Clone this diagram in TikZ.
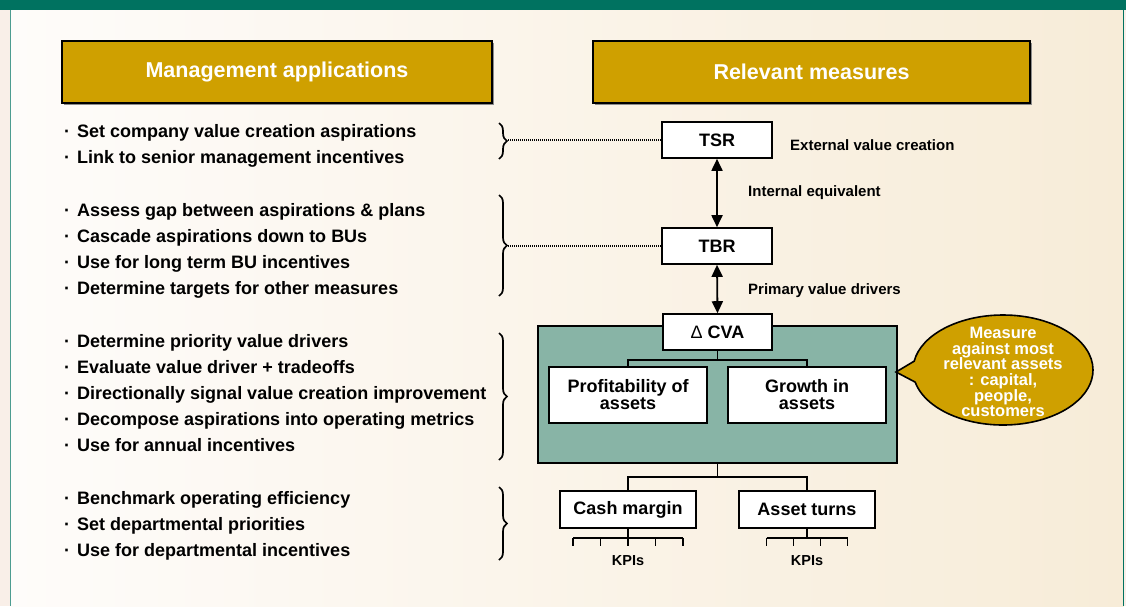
\documentclass[tikz,border=0pt]{standalone}
\usepackage{fontspec}
\setmainfont{Liberation Sans}
\usetikzlibrary{arrows.meta,decorations.pathreplacing,shapes.callouts,shadows,calc}
\definecolor{gold}{RGB}{207,160,0}
\definecolor{sage}{RGB}{136,180,166}
\definecolor{topgreen}{RGB}{0,114,96}
\definecolor{bgleft}{RGB}{254,252,250}
\definecolor{bgright}{RGB}{247,236,216}
\definecolor{bgstrip}{RGB}{249,239,232}
\begin{document}
\begin{tikzpicture}[x=1pt,y=-1pt,
  hdr/.style={draw=black, line width=1.6pt, fill=gold, text=white,
    font=\bfseries\fontsize{21.5}{26}\selectfont, minimum height=62, inner sep=0,
    drop shadow={shadow xshift=1.5pt, shadow yshift=-1.5pt, fill=black!45, opacity=1}},
  wbox/.style={draw=black, line width=1.6pt, fill=white, inner sep=0, align=center,
    font=\bfseries\fontsize{18}{17}\selectfont},
  bul/.style={anchor=base west, inner sep=0, font=\bfseries\fontsize{18}{26}\selectfont},
  lbl/.style={anchor=base west, inner sep=0, font=\bfseries\fontsize{15}{18}\selectfont},
  kpi/.style={anchor=base, inner sep=0, font=\bfseries\fontsize{14.5}{18}\selectfont},
  bracestyle/.style={line width=1.7pt, decorate, decoration={brace, amplitude=8pt}},
  dotline/.style={line width=1.2pt, dash pattern=on 1pt off 1pt},
  dbl/.style={line width=1.8pt, {Triangle[width=11pt,length=12pt]}-{Triangle[width=11pt,length=12pt]}},
  conn/.style={line width=1.8pt},
]
\useasboundingbox (0,0) rectangle (1126,606);
% background
\fill[bgstrip] (0,0) rectangle (1126,606);
\shade[left color=bgleft, right color=bgright] (10.5,10) rectangle (1123.5,606);
\fill[topgreen] (0,0) rectangle (1126,10);
\draw[topgreen!70, line width=1.3pt] (10.5,10) -- (10.5,606);
\draw[topgreen, line width=1.5pt] (1123.5,10) -- (1123.5,606);

% headers
\node[hdr, minimum width=430] (hmgmt) at (277,72) {Management applications};
\node[hdr, minimum width=437] (hrel) at (811.5,72) {Relevant measures};

% bullets
\def\bu{\makebox[13pt][l]{·}}
\node[bul] (l1) at (64,137) {\bu Set company value creation aspirations};
\node[bul] (l2) at (64,163) {\bu Link to senior management incentives};
\node[bul] (l3) at (64,216) {\bu Assess gap between aspirations \& plans};
\node[bul] (l4) at (64,242) {\bu Cascade aspirations down to BUs};
\node[bul] (l5) at (64,268) {\bu Use for long term BU incentives};
\node[bul] (l6) at (64,294) {\bu Determine targets for other measures};
\node[bul] (l7) at (64,347) {\bu Determine priority value drivers};
\node[bul] (l8) at (64,373) {\bu Evaluate value driver + tradeoffs};
\node[bul] (l9) at (64,399) {\bu Directionally signal value creation improvement};
\node[bul] (l10) at (64,425) {\bu Decompose aspirations into operating metrics};
\node[bul] (l11) at (64,451) {\bu Use for annual incentives};
\node[bul] (l12) at (64,504) {\bu Benchmark operating efficiency};
\node[bul] (l13) at (64,530) {\bu Set departmental priorities};
\node[bul] (l14) at (64,556) {\bu Use for departmental incentives};

% braces
\draw[bracestyle] (499,123) -- (499,159);
\draw[bracestyle] (499,195) -- (499,296);
\draw[bracestyle] (499,333) -- (499,460);
\draw[bracestyle] (499,487) -- (499,560);
\coordinate (bt1) at (508,140);
\coordinate (bt2) at (508,246);

% measure boxes
\node[wbox, minimum width=110, minimum height=36] (tsr) at (717,140) {TSR};
\node[wbox, minimum width=110, minimum height=36] (tbr) at (717,246) {TBR};
\draw[dotline] (bt1) -- (tsr.west);
\draw[dotline] (bt2) -- (tbr.west);

\node[lbl] (ext) at (790,150) {External value creation};
\node[lbl] (inteq) at (748,196) {Internal equivalent};
\node[lbl] (prim) at (748,294) {Primary value drivers};

% CVA container
\node[draw=black, line width=1.6pt, fill=sage, minimum width=359, minimum height=137, inner sep=0] (cont) at (717.5,394.5) {};
\node[wbox, minimum width=109, minimum height=36] (dcva) at (717.5,332) {{\mdseries Δ} CVA};
\node[wbox, minimum width=158, minimum height=56] (prof) at (628,395) {Profitability of\\assets};
\node[wbox, minimum width=158, minimum height=56] (grow) at (807,395) {Growth in\\assets};

\draw[dbl] (tsr.south) -- (tbr.north);
\draw[dbl] (tbr.south) -- (dcva.north);

\draw[conn] (dcva.south) -- ++(0,9) coordinate (j1);
\draw[conn] (j1) -| (prof.north);
\draw[conn] (j1) -| (grow.north);

% lower boxes
\node[wbox, minimum width=136, minimum height=37] (cash) at (628,509.5) {Cash margin};
\node[wbox, minimum width=136, minimum height=37] (turn) at (807,509.5) {Asset turns};
\draw[conn] (cont.south) -- ++(0,13) coordinate (j2);
\draw[conn] (j2) -| (cash.north);
\draw[conn] (j2) -| (turn.north);

% KPI ticks
\draw[conn] (cash.south) -- ++(0,9) coordinate (k1);
\draw[conn] ([xshift=-55pt]k1) -- ([xshift=55pt]k1);
\foreach \d in {-55,-27.5,0,27.5,55} \draw[conn] ([xshift=\d pt]k1) -- ++(0,8);
\draw[conn] (turn.south) -- ++(0,9) coordinate (k2);
\draw[conn] ([xshift=-40.5pt]k2) -- ([xshift=40.5pt]k2);
\foreach \d in {-40.5,-13.5,13.5,40.5} \draw[conn] ([xshift=\d pt]k2) -- ++(0,8);
\node[kpi] (kpi1) at (628,565) {KPIs};
\node[kpi] (kpi2) at (807,565) {KPIs};

% callout
\coordinate (ptr) at (896,372);
\node[ellipse callout, draw=black, line width=1.6pt, fill=gold, minimum width=180, minimum height=110, inner sep=0,
  callout absolute pointer=(ptr), callout pointer arc=22] (bub) at (1003,370) {};
\node[text=white, align=center, inner sep=0, font=\bfseries\fontsize{16.5}{15.6}\selectfont] (bubtxt) at (1003,372)
  {Measure\\against most\\relevant assets\\: capital,\\people,\\customers};
\end{tikzpicture}
\end{document}
